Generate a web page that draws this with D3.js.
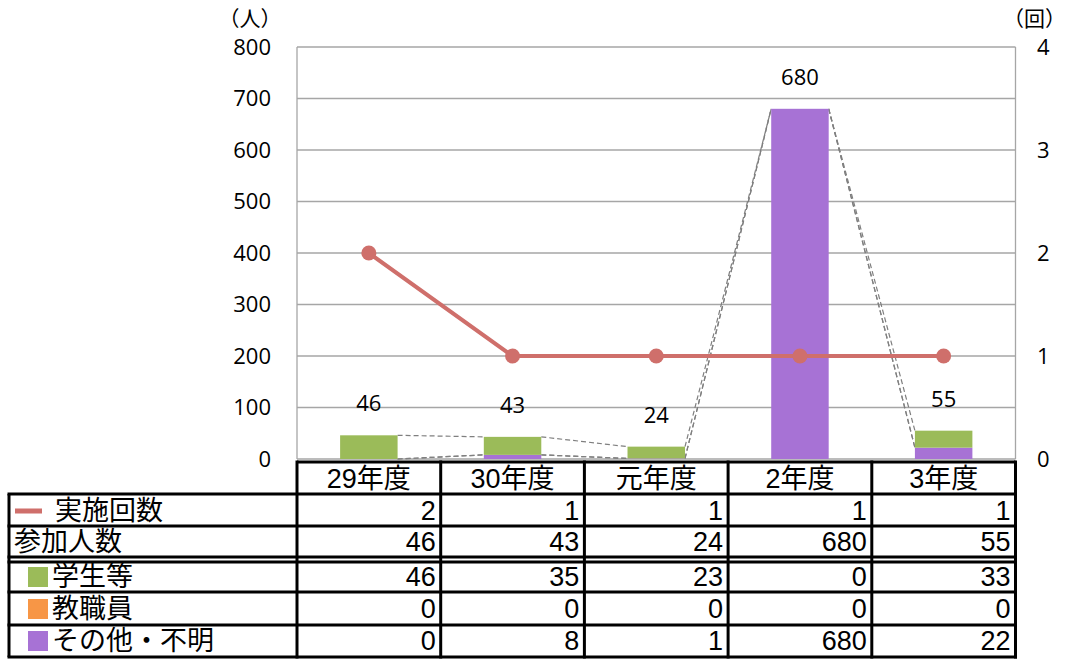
<!DOCTYPE html>
<html><head><meta charset="utf-8">
<script src="https://cdn.jsdelivr.net/npm/d3@7"></script>
<style>body{margin:0;background:#fff}svg{display:block}</style>
</head><body>
<svg id="c" width="1067" height="659"></svg>
<script>
const categories = ["29年度","30年度","元年度","2年度","3年度"];
const sessions = [2,1,1,1,1];
const participants = [46,43,24,680,55];
const students = [46,35,23,0,33];
const staff = [0,0,0,0,0];
const others = [0,8,1,680,22];
const leftTicks = [0,100,200,300,400,500,600,700,800];
const rightTicks = [0,1,2,3,4];

const svg = d3.select("#c");
const L=297, R=1015.5, T=47, B=459;
const x = d3.scaleBand().domain(categories).range([L,R]).paddingInner(0).paddingOuter(0);
const y = d3.scaleLinear().domain([0,800]).range([B,T]);
const y2 = d3.scaleLinear().domain([0,4]).range([B,T]);
const numFont = "'Open Sans', 'Noto Sans', sans-serif";
const tblFont = "'Liberation Sans', 'Noto Sans CJK JP', sans-serif";

// gridlines
svg.append("g").selectAll("line").data(leftTicks.filter(d=>d>0)).join("line")
  .attr("x1",L).attr("x2",R).attr("y1",d=>y(d)).attr("y2",d=>y(d))
  .attr("stroke","#a6a6a6").attr("stroke-width",1.3);
svg.append("line").attr("x1",L).attr("x2",L).attr("y1",T).attr("y2",B).attr("stroke","#a6a6a6").attr("stroke-width",1.3);
svg.append("line").attr("x1",R).attr("x2",R).attr("y1",T).attr("y2",B).attr("stroke","#a6a6a6").attr("stroke-width",1.3);
svg.append("line").attr("x1",L).attr("x2",R).attr("y1",B).attr("y2",B).attr("stroke","#a6a6a6").attr("stroke-width",1.3);

// axes labels
const lAxis = d3.axisLeft(y).tickValues(leftTicks).tickSize(0).tickPadding(0).tickFormat(d3.format("d"));
const gl = svg.append("g").attr("transform",`translate(271,0)`).call(lAxis);
gl.select(".domain").remove();
gl.selectAll("text").attr("font-family",numFont).attr("font-size",22).attr("fill","#000");
const rAxis = d3.axisRight(y2).tickValues(rightTicks).tickSize(0).tickPadding(0).tickFormat(d3.format("d"));
const gr = svg.append("g").attr("transform",`translate(1037,0)`).call(rAxis);
gr.select(".domain").remove();
gr.selectAll("text").attr("font-family",numFont).attr("font-size",22).attr("fill","#000");

svg.append("text").attr("x",250).attr("y",18).attr("text-anchor","middle").attr("dominant-baseline","central")
  .attr("font-family",tblFont).attr("font-size",21).text("（人）");
svg.append("text").attr("x",1066).attr("y",18).attr("text-anchor","end").attr("dominant-baseline","central")
  .attr("font-family",tblFont).attr("font-size",21).text("（回）");

// stacked bars
const rows = categories.map((c,i)=>({cat:c, others:others[i], staff:staff[i], students:students[i]}));
const keys = ["others","staff","students"];
const colors = {others:"#a772d5", staff:"#f79646", students:"#9bbb59"};
const stack = d3.stack().keys(keys)(rows);
const bw = x.bandwidth()*0.4;
const bx = c => x(c)+x.bandwidth()/2 - bw/2;

// series lines
stack.forEach(layer=>{
  for(let i=0;i<categories.length-1;i++){
    svg.append("line")
      .attr("x1",bx(categories[i])+bw).attr("y1",y(layer[i][1]))
      .attr("x2",bx(categories[i+1])).attr("y2",y(layer[i+1][1]))
      .attr("stroke","#7f7f7f").attr("stroke-width",1.2).attr("stroke-dasharray","5,3");
  }
});

svg.append("g").selectAll("g").data(stack).join("g").attr("fill",d=>colors[d.key])
  .selectAll("rect").data(d=>d).join("rect")
  .attr("x",d=>bx(d.data.cat)).attr("width",bw)
  .attr("y",d=>y(d[1])).attr("height",d=>y(d[0])-y(d[1]));

// total labels
svg.append("g").selectAll("text").data(participants).join("text")
  .attr("x",(d,i)=>x(categories[i])+x.bandwidth()/2)
  .attr("y",d=>y(d)-33).attr("text-anchor","middle").attr("dominant-baseline","central")
  .attr("font-family",numFont).attr("font-size",22).text(d=>d);

// line series
const lineColor = "#cf6f6b";
const line = d3.line().x((d,i)=>x(categories[i])+x.bandwidth()/2).y(d=>y2(d));
svg.append("path").datum(sessions).attr("d",line).attr("fill","none").attr("stroke",lineColor).attr("stroke-width",4);
svg.append("g").selectAll("circle").data(sessions).join("circle")
  .attr("cx",(d,i)=>x(categories[i])+x.bandwidth()/2).attr("cy",d=>y2(d)).attr("r",7.5).attr("fill",lineColor);

// data table
const TL=9;
const hLines = [494,526,557,562,592,625,657];
const tg = svg.append("g");
tg.append("line").attr("x1",L).attr("x2",R).attr("y1",462).attr("y2",462).attr("stroke","#000").attr("stroke-width",3);
hLines.forEach(yy=>tg.append("line").attr("x1",TL-1.5).attr("x2",R+1.5).attr("y1",yy).attr("y2",yy).attr("stroke","#000").attr("stroke-width",3));
tg.append("line").attr("x1",TL).attr("x2",TL).attr("y1",494).attr("y2",657).attr("stroke","#000").attr("stroke-width",3);
const colEdges = categories.map(c=>x(c)).concat([R]);
colEdges.forEach(xx=>tg.append("line").attr("x1",xx).attr("x2",xx).attr("y1",460.5).attr("y2",658.5).attr("stroke","#000").attr("stroke-width",3));

const fs = 27;
tg.selectAll("text.hdr").data(categories).join("text").attr("class","hdr")
  .attr("x",c=>x(c)+x.bandwidth()/2).attr("y",479).attr("text-anchor","middle").attr("dominant-baseline","central")
  .attr("font-family",tblFont).attr("font-size",fs).text(c=>c);

const tableRows = [
  {label:"実施回数", vals:sessions, cy:511, lx:55, sw:"line"},
  {label:"参加人数", vals:participants, cy:542, lx:14},
  {label:"学生等", vals:students, cy:577, lx:52, sw:colors.students},
  {label:"教職員", vals:staff, cy:609, lx:52, sw:colors.staff},
  {label:"その他・不明", vals:others, cy:641, lx:52, sw:colors.others}
];
tableRows.forEach(r=>{
  tg.append("text").attr("x",r.lx).attr("y",r.cy).attr("dominant-baseline","central")
    .attr("font-family",tblFont).attr("font-size",fs).text(r.label);
  if(r.sw==="line"){
    tg.append("rect").attr("x",15).attr("y",r.cy-2.5).attr("width",27).attr("height",5).attr("fill",lineColor);
  } else if(r.sw){
    tg.append("rect").attr("x",28).attr("y",r.cy-10).attr("width",20).attr("height",20).attr("fill",r.sw);
  }
  r.vals.forEach((v,i)=>{
    tg.append("text").attr("x",x(categories[i])+x.bandwidth()-5).attr("y",r.cy)
      .attr("text-anchor","end").attr("dominant-baseline","central")
      .attr("font-family",tblFont).attr("font-size",fs).text(v);
  });
});
</script>
</body></html>
